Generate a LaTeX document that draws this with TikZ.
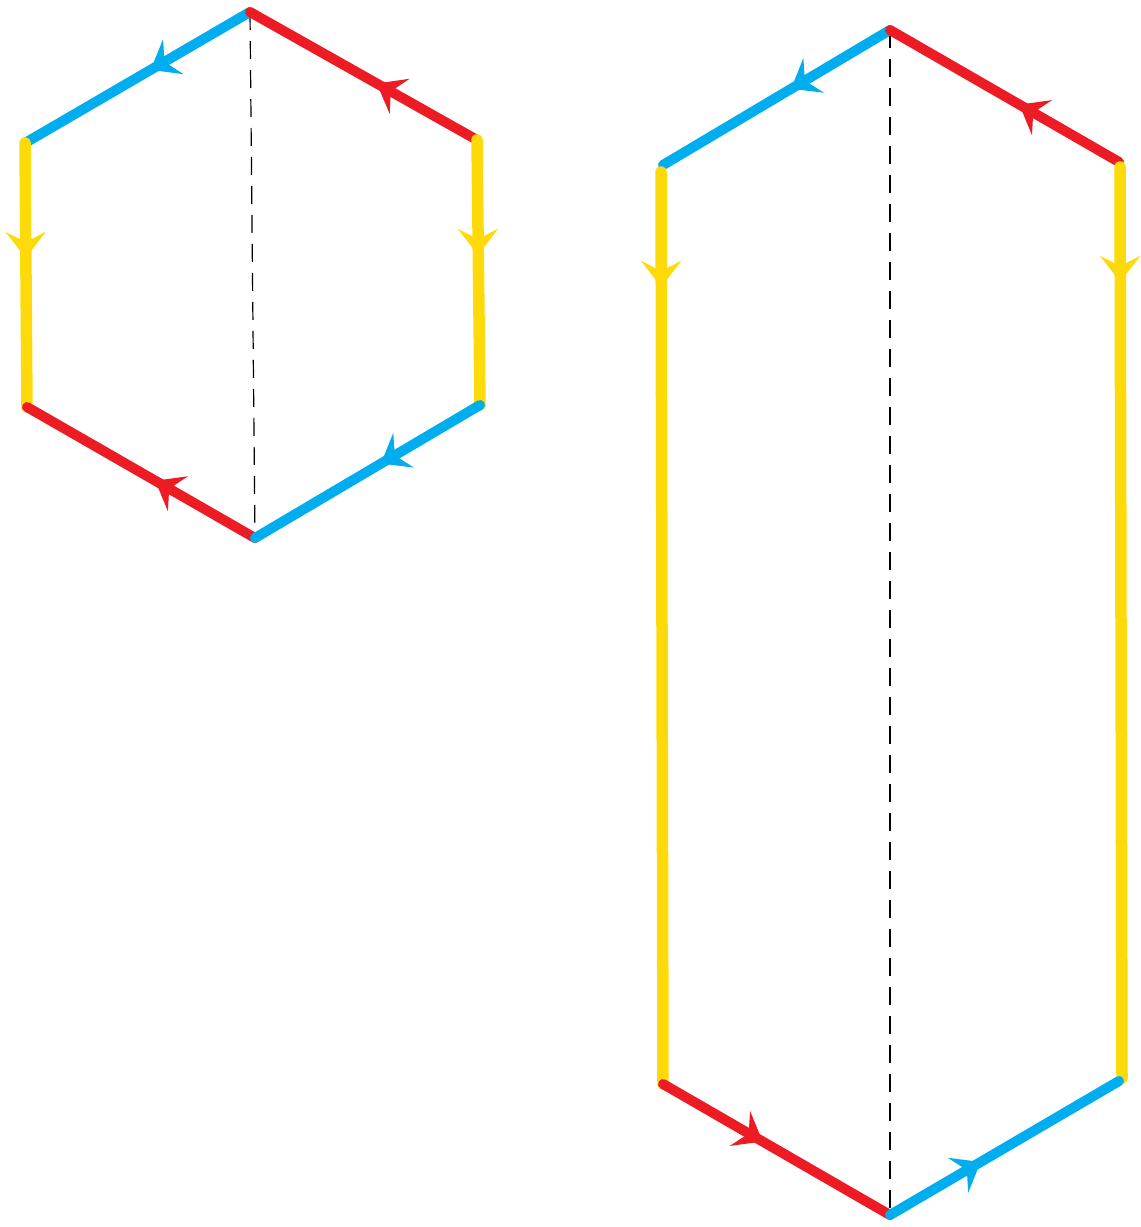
\documentclass[tikz,border=0pt]{standalone}
\usetikzlibrary{arrows.meta,decorations.markings}
\definecolor{cblue}{RGB}{0,174,239}
\definecolor{cred}{RGB}{237,28,36}
\definecolor{cyel}{RGB}{255,218,10}
\begin{document}
\begin{tikzpicture}[x=1pt,y=-1pt,
  edge/.style={line width=10pt,line cap=round},
  tipmark/.style 2 args={postaction={decorate},decoration={markings,
     mark=at position #1 with {\arrow[#2]{Stealth[length=26pt,width=40pt,inset=10pt]}}}},
  bl/.style={edge,draw=cblue,tipmark={#1}{cblue}},
  rd/.style={edge,draw=cred,tipmark={#1}{cred}},
  yl/.style={edge,line width=11.5pt,draw=cyel,tipmark={#1}{cyel}},
  axis/.style={line width=1.2pt,dash pattern=on 18pt off 11pt}]
\useasboundingbox (0,0) rectangle (1141,1227);
% left hexagon
\coordinate (at) at (250,12);
\coordinate (aul) at (25,143);
\coordinate (all) at (27,407);
\coordinate (ab) at (255,538);
\coordinate (alr) at (480,405);
\coordinate (aur) at (477,140);
% right shape
\coordinate (bt) at (890,30);
\coordinate (bul) at (663,165);
\coordinate (bulY) at (661,172);
\coordinate (bll) at (663,1084);
\coordinate (bb) at (890,1215);
\coordinate (blr) at (1119,1081);
\coordinate (bur) at (1119,162);
\coordinate (burY) at (1120,167);
\coordinate (blrY) at (1122,1078);

\draw[axis] (at) -- (ab);
\draw[axis] (bt) -- (bb);

\draw[bl=115pt] (at) -- (aul);
\draw[rd=115pt] (aur) -- (at);
\draw[yl=115pt] (aul) -- (all);
\draw[yl=115pt] (aur) -- (alr);
\draw[rd=115pt] (ab) -- (all);
\draw[bl=115pt] (alr) -- (ab);

\draw[bl=115pt] (bt) -- (bul);
\draw[rd=115pt] (bur) -- (bt);
\draw[yl=115pt] (bulY) -- (bll);
\draw[yl=115pt] (burY) -- (blrY);
\draw[rd=115pt] (bll) -- (bb);
\draw[bl=105pt] (bb) -- (blr);
\end{tikzpicture}
\end{document}
